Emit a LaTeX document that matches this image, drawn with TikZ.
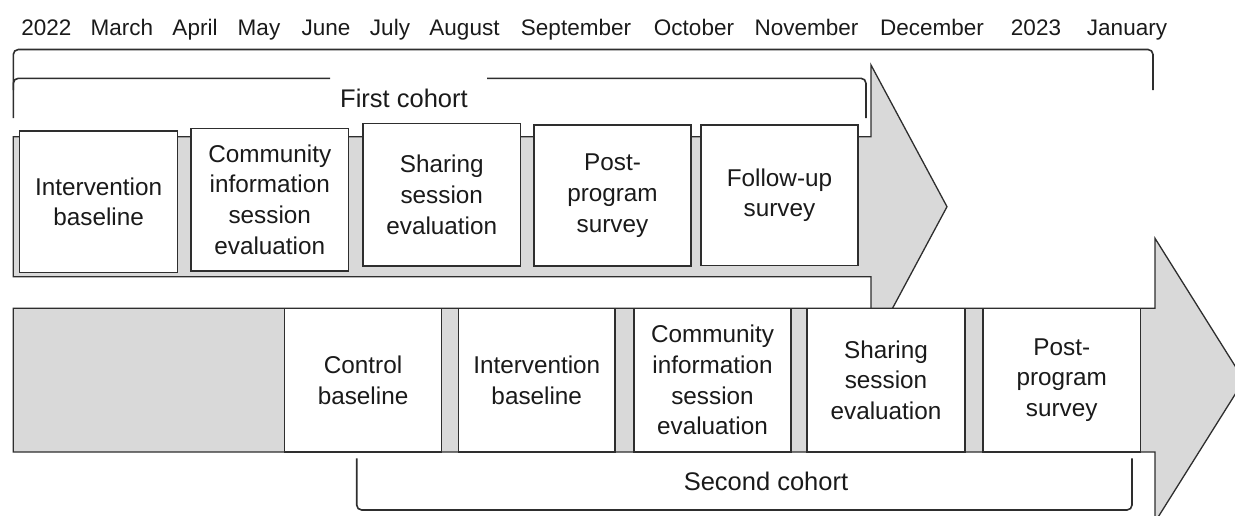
\documentclass[tikz,border=0pt]{standalone}
\usepackage{fontspec}
\setmainfont{Liberation Sans}
\definecolor{bandgray}{HTML}{D9D9D9}
\definecolor{edge}{HTML}{2E2E2E}
\definecolor{txt}{HTML}{1A1A1A}

% a stage box given by its left, top, right and bottom edges
\newcommand{\stagebox}[6]{%
  \node[stage, minimum width={(#4)-(#2)}, minimum height={(#5)-(#3)}]
    (#1) at ({((#2)+(#4))/2},{((#3)+(#5))/2}) {#6};}

\begin{document}
\begin{tikzpicture}[x=1pt, y=-1pt,
  month/.style={anchor=base, inner sep=0, text=txt,
    font=\fontsize{22.5}{27}\selectfont},
  stage/.style={draw=edge, line width=1.3pt, fill=white, align=center,
    inner sep=0, text=txt, font=\fontsize{24.3}{30.7}\selectfont},
  band/.style={fill=bandgray, draw=edge, line width=1.3pt, line join=miter},
  bracketline/.style={draw=edge, line width=1.6pt, rounded corners=5pt},
  cohort/.style={inner sep=0, text=txt, font=\fontsize{25.5}{30}\selectfont}
]
\useasboundingbox (0,0) rectangle (1235,515);

% timeline
\node[month] (m0)  at (46.4,35.5)  {2022};
\node[month] (m1)  at (122,35.5)   {March};
\node[month] (m2)  at (195,35.5)   {April};
\node[month] (m3)  at (259,35.5)   {May};
\node[month] (m4)  at (326,35.5)   {June};
\node[month] (m5)  at (390,35.5)   {July};
\node[month] (m6)  at (464.5,35.5) {August};
\node[month] (m7)  at (576,35.5)   {September};
\node[month] (m8)  at (694,35.5)   {October};
\node[month] (m9)  at (806.5,35.5) {November};
\node[month] (m10) at (932,35.5)   {December};
\node[month] (m11) at (1036,35.5)  {2023};
\node[month] (m12) at (1127,35.5)  {January};

% first cohort arrow and its stages
\path[band] (13.3,136.7) -- (871,136.7) -- (871,65) -- (947,206.7)
  -- (871,348.4) -- (871,276.7) -- (13.3,276.7) -- cycle;
\stagebox{a1}{19.8}{131}{177.5}{272.5}{Intervention\\baseline}
\stagebox{a2}{191}{128.3}{348.5}{271}{Community\\information\\session\\evaluation}
\stagebox{a3}{363}{123.3}{520.5}{266}{Sharing\\session\\evaluation}
\stagebox{a4}{534}{125}{691}{266}{Post-\\program\\survey}
\stagebox{a5}{701}{125}{858}{265.5}{Follow-up\\survey}

% second cohort arrow and its stages
\path[band] (13.3,308.3) -- (1155,308.3) -- (1155,238.3) -- (1244,380.2)
  -- (1155,522) -- (1155,452) -- (13.3,452) -- cycle;
\stagebox{b1}{284.6}{308.3}{441.5}{452}{Control\\baseline}
\stagebox{b2}{458.5}{308.3}{615}{452}{Intervention\\baseline}
\stagebox{b3}{634}{308.3}{791}{452}{Community\\information\\session\\evaluation}
\stagebox{b4}{807}{308.3}{965}{452}{Sharing\\session\\evaluation}
\stagebox{b5}{983}{308.3}{1140.5}{452}{Post-\\program\\survey}

% whole-study bracket
\draw[bracketline] (13.3,90) -- (13.3,49.5) -- (1153,49.5) -- (1153,90);

% first cohort bracket, broken around its label
\node[cohort] (fc) at (404,98) {First cohort};
\draw[bracketline] (13.3,118) -- (13.3,78.3) -- (330,78.3);
\draw[bracketline] (487,78.3) -- (866,78.3) -- (866,118);

% second cohort bracket
\node[cohort] (sc) at (766,481) {Second cohort};
\draw[bracketline] (356.7,458.3) -- (356.7,510) -- (1132,510) -- (1132,458.3);
\end{tikzpicture}
\end{document}
